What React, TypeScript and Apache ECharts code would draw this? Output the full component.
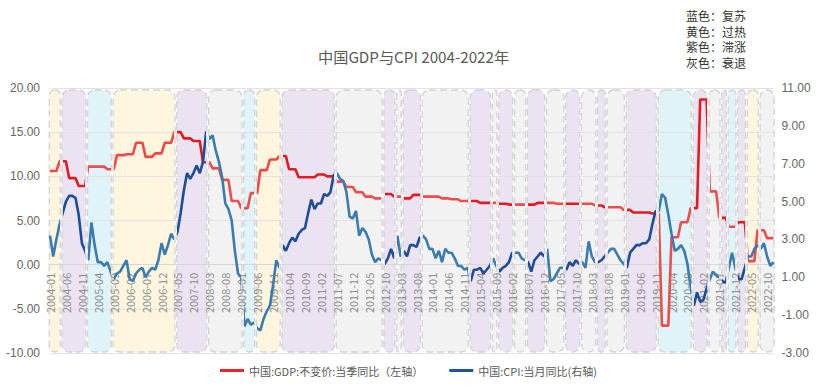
import React, { useEffect, useRef } from "react";
import * as echarts from "echarts";

// ---- categories ----
const months: string[] = [];
for (let y = 2004; y <= 2022; y++) {
  for (let m = 1; m <= 12; m++) months.push(`${y}-${String(m).padStart(2, "0")}`);
}

// ---- GDP quarterly YoY (left axis), 2004Q1..2022Q4 ----
const gdpQuarterly: number[] = [
  10.6, 11.7, 9.8, 8.9,
  11.1, 11.1, 10.8, 12.4,
  12.5, 13.8, 12.2, 12.6,
  13.8, 15.0, 14.3, 14.0,
  11.6, 10.9, 9.6, 7.2,
  6.4, 8.1, 10.7, 11.9,
  12.3, 10.8, 9.9, 9.9,
  10.2, 10.0, 9.4, 8.8,
  8.2, 7.7, 7.5, 8.0,
  7.7, 7.5, 7.9, 7.7,
  7.7, 7.5, 7.4, 7.2,
  7.2, 7.0, 7.0, 6.9,
  6.8, 6.8, 6.8, 7.0,
  7.0, 6.9, 6.9, 6.9,
  6.9, 6.7, 6.5, 6.5,
  6.2, 5.9, 5.9, 5.8,
  -6.9, 3.1, 4.8, 6.4,
  18.7, 8.3, 5.3, 4.3,
  4.8, 0.4, 3.9, 3.0,
];

// ---- CPI monthly YoY (right axis), 2004-01..2022-12 ----
const cpiMonthly: number[] = [
  3.2, 2.1, 3.0, 3.8, 4.4, 5.0, 5.3, 5.3, 5.2, 4.3, 2.8, 2.4,
  1.9, 3.9, 2.7, 1.8, 1.8, 1.6, 1.8, 1.3, 0.9, 1.2, 1.3, 1.6,
  1.9, 0.9, 0.8, 1.2, 1.4, 1.5, 1.0, 1.3, 1.5, 1.4, 1.9, 2.8,
  2.2, 2.7, 3.3, 3.0, 3.4, 4.4, 5.6, 6.5, 6.2, 6.5, 6.9, 6.5,
  7.1, 8.7, 8.3, 8.5, 7.7, 7.1, 6.3, 4.9, 4.6, 4.0, 2.4, 1.2,
  1.0, -1.6, -1.2, -1.5, -1.4, -1.7, -1.8, -1.2, -0.8, -0.5, 0.6, 1.9,
  1.5, 2.7, 2.4, 2.8, 3.1, 2.9, 3.3, 3.5, 3.6, 4.4, 5.1, 4.6,
  4.9, 4.9, 5.4, 5.3, 5.5, 6.4, 6.5, 6.2, 6.1, 5.5, 4.2, 4.1,
  4.5, 3.2, 3.6, 3.4, 3.0, 2.2, 1.8, 2.0, 1.9, 1.7, 2.0, 2.5,
  2.0, 3.2, 2.1, 2.4, 2.1, 2.7, 2.7, 2.6, 3.1, 3.2, 3.0, 2.5,
  2.5, 2.0, 2.4, 1.8, 2.5, 2.3, 2.3, 2.0, 1.6, 1.6, 1.4, 1.5,
  0.8, 1.4, 1.4, 1.5, 1.2, 1.4, 1.6, 2.0, 1.6, 1.3, 1.5, 1.6,
  1.8, 2.3, 2.3, 2.3, 2.0, 1.9, 1.8, 1.3, 1.9, 2.1, 2.3, 2.1,
  2.5, 0.8, 0.9, 1.2, 1.5, 1.5, 1.4, 1.8, 1.6, 1.9, 1.7, 1.8,
  1.5, 2.9, 2.1, 1.8, 1.8, 1.9, 2.1, 2.3, 2.5, 2.5, 2.2, 1.9,
  1.7, 1.5, 2.3, 2.5, 2.7, 2.7, 2.8, 2.8, 3.0, 3.8, 4.5, 4.5,
  5.4, 5.2, 4.3, 3.3, 2.4, 2.5, 2.7, 2.4, 1.7, 0.5, -0.5, 0.2,
  -0.3, -0.2, 0.4, 0.9, 1.3, 1.1, 1.0, 0.8, 0.7, 1.5, 2.3, 1.5,
  0.9, 0.9, 1.5, 2.1, 2.1, 2.5, 2.7, 2.5, 2.8, 2.1, 1.6, 1.8,
];

// ---- regime bands ----
const bandStart: string[] = [
  "2004-01", "2004-05", "2005-01", "2005-09", "2007-05", "2008-03", "2009-02", "2009-06",
  "2010-02", "2011-07", "2012-10", "2013-02", "2013-04", "2013-10", "2015-01", "2015-08",
  "2015-10", "2016-03", "2016-07", "2017-01", "2017-07", "2017-12", "2018-05", "2018-08",
  "2019-02", "2019-12", "2020-11", "2021-04", "2021-08", "2021-10", "2022-01", "2022-04",
  "2022-08",
];
const bandEnd: string[] = [
  "2004-04", "2004-12", "2005-08", "2007-04", "2008-02", "2009-01", "2009-05", "2010-01",
  "2011-06", "2012-09", "2013-01", "2013-03", "2013-09", "2014-12", "2015-07", "2015-09",
  "2016-02", "2016-06", "2016-12", "2017-06", "2017-11", "2018-04", "2018-07", "2019-01",
  "2019-11", "2020-10", "2021-03", "2021-07", "2021-09", "2021-12", "2022-03", "2022-07",
  "2022-12",
];
const bandKind: string[] = [
  "过热", "滞涨", "复苏", "过热", "滞涨", "衰退", "复苏", "过热",
  "滞涨", "衰退", "滞涨", "衰退", "滞涨", "衰退", "滞涨", "衰退",
  "滞涨", "衰退", "滞涨", "衰退", "滞涨", "衰退", "滞涨", "衰退",
  "滞涨", "复苏", "滞涨", "衰退", "滞涨", "复苏", "滞涨", "过热",
  "衰退",
];

const legendNotes: string[] = ["蓝色：复苏", "黄色：过热", "紫色：滞涨", "灰色：衰退"];

const bandFill: Record<string, string> = {
  复苏: "#dff3f8",
  过热: "#fdf5de",
  滞涨: "#ebe3f2",
  衰退: "#f2f2f2",
};
const redTone: Record<string, string> = {
  复苏: "#ef4d4d", 过热: "#ef4646", 滞涨: "#e11b1f", 衰退: "#ef4d4d",
};
const blueTone: Record<string, string> = {
  复苏: "#3a7bb0", 过热: "#3a7bb0", 滞涨: "#1d4d97", 衰退: "#3a7bb0",
};

const GDP_NAME = "中国:GDP:不变价:当季同比（左轴）";
const CPI_NAME = "中国:CPI:当月同比(右轴)";

export default function App() {
  const ref = useRef<HTMLDivElement>(null);
  useEffect(() => {
    if (!ref.current) return;
    const chart = echarts.init(ref.current, undefined, { renderer: "svg" });

    const gdpMonthly = months.map((_, i) => gdpQuarterly[Math.floor(i / 3)]);
    const bands = bandStart.map((s, i) => [months.indexOf(s), months.indexOf(bandEnd[i]), i]);
    const gap = 0.22;
    const last = months.length - 1;
    const pieces = (tone: Record<string, string>) =>
      bands.map((b) => ({
        gte: b[0] === 0 ? -1 : b[0] - 0.5 + gap,
        lt: b[1] === last ? last + 1 : b[1] + 0.5 - gap,
        color: tone[bandKind[b[2]]],
      }));

    chart.setOption({
      animation: false,
      backgroundColor: "#ffffff",
      title: {
        text: "中国GDP与CPI 2004-2022年",
        left: 313,
        top: 43,
        textStyle: { fontSize: 15.2, fontWeight: "normal", color: "#595959", fontFamily: "Noto Sans CJK SC" },
      },
      graphic: legendNotes.map((t, i) => ({
        type: "text",
        left: 686,
        top: [9.5, 25.3, 40.6, 56][i],
        style: { text: t, fontSize: 12, fill: "#333", fontFamily: "Noto Sans CJK SC" },
      })),
      legend: {
        bottom: 6,
        left: "center",
        itemWidth: 24,
        itemHeight: 3,
        itemGap: 26,
        icon: "rect",
        textStyle: { fontSize: 11, color: "#595959", fontFamily: "Noto Sans CJK SC" },
        data: [
          { name: GDP_NAME, itemStyle: { color: "#e8262a" } },
          { name: CPI_NAME, itemStyle: { color: "#1f5597" } },
        ],
      },
      grid: { left: 50, right: 43.5, top: 88, bottom: 34, containLabel: false, outerBoundsMode: "none" },
      visualMap: [
        {
          type: "piecewise",
          show: false,
          dimension: 0,
          seriesIndex: 1,
          pieces: pieces(redTone),
          outOfRange: { color: "rgba(255,255,255,0)" },
        },
        {
          type: "piecewise",
          show: false,
          dimension: 0,
          seriesIndex: 2,
          pieces: pieces(blueTone),
          outOfRange: { color: "rgba(255,255,255,0)" },
        },
      ],
      xAxis: {
        type: "category",
        data: months,
        boundaryGap: false,
        offset: -88.33,
        axisLine: { onZero: false, lineStyle: { color: "#d6d6d6" } },
        axisTick: { show: false },
        axisLabel: {
          interval: 4,
          rotate: 90,
          color: "#8c8c8c",
          fontSize: 11,
          margin: 8,
          fontFamily: "Noto Sans CJK SC",
        },
      },
      yAxis: [
        {
          type: "value",
          min: -10,
          max: 20,
          interval: 5,
          axisLine: { show: false },
          axisTick: { show: false },
          axisLabel: { formatter: (v: number) => v.toFixed(2), color: "#666", fontSize: 12, margin: 10 },
          splitLine: { lineStyle: { color: "#e2e2e2" } },
        },
        {
          type: "value",
          min: -3,
          max: 11,
          interval: 2,
          axisLine: { show: false },
          axisTick: { show: false },
          axisLabel: { formatter: (v: number) => v.toFixed(2), color: "#666", fontSize: 12, margin: 8 },
          splitLine: { show: false },
        },
      ],
      series: [
        {
          type: "custom",
          silent: true,
          z: -1,
          xAxisIndex: 0,
          yAxisIndex: 0,
          data: bands,
          encode: { x: [0, 1] },
          renderItem: (params: any, api: any) => {
            const s = api.value(0);
            const e = api.value(1);
            const k = bandKind[api.value(2)];
            const step = api.size([1, 0])[0];
            const x0 = api.coord([s, 0])[0] - step / 2 + 0.9;
            const x1 = api.coord([e, 0])[0] + step / 2 - 0.9;
            const cs = params.coordSys;
            return {
              type: "rect",
              shape: { x: x0, y: cs.y + 2, width: x1 - x0, height: cs.height - 3, r: 7 },
              style: { fill: bandFill[k], stroke: "#d2d2d2", lineWidth: 1.3, lineDash: [7, 4] },
            };
          },
        },
        {
          name: GDP_NAME,
          type: "line",
          yAxisIndex: 0,
          data: gdpMonthly,
          showSymbol: false,
          symbol: "none",
          lineStyle: { width: 2.6 },
          z: 3,
        },
        {
          name: CPI_NAME,
          type: "line",
          yAxisIndex: 1,
          data: cpiMonthly,
          showSymbol: false,
          symbol: "none",
          lineStyle: { width: 2.6 },
          z: 4,
        },
      ],
    });
    return () => chart.dispose();
  }, []);
  return (
    <div
      ref={ref}
      style={{ position: "fixed", left: 0, top: 0, width: 817, height: 387, background: "#fff" }}
    />
  );
}
